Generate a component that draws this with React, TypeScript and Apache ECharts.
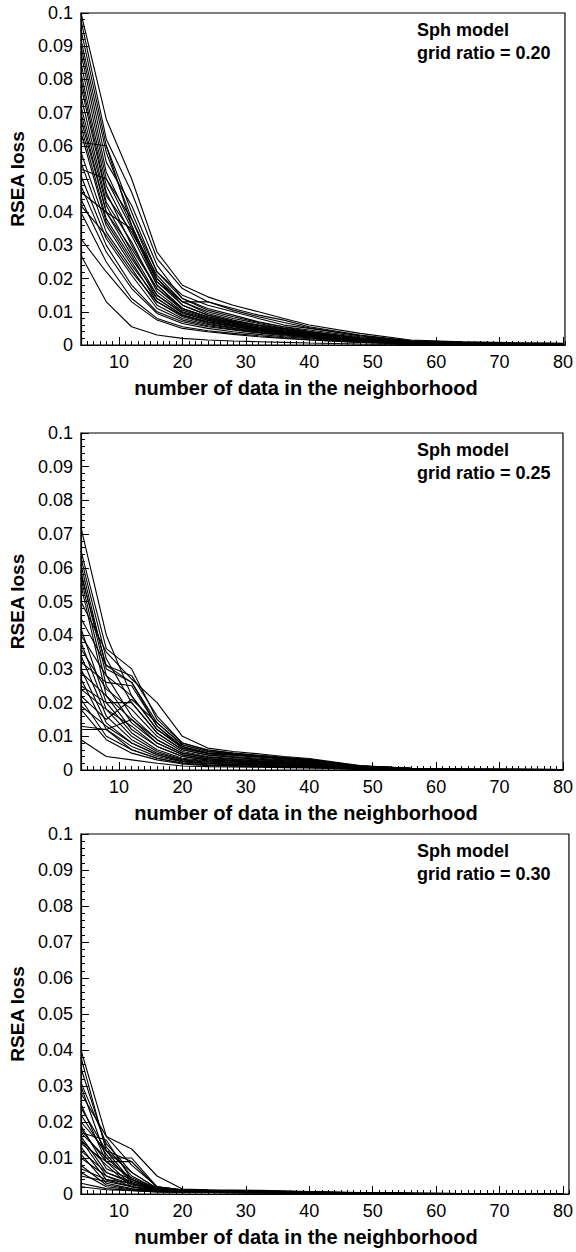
import React, { useEffect, useRef } from "react";
import * as echarts from "echarts";

// x positions (number of data in the neighborhood) where each curve is sampled
const X_VALUES = [4, 8, 12, 16, 20, 24, 28, 32, 36, 40, 48, 56, 64, 72, 80];
const X_TICK_LABELS = [10, 20, 30, 40, 50, 60, 70, 80];
const Y_MIN = 0;
const Y_MAX = 0.1;
const Y_STEP = 0.01;

const MODEL_LABEL = "Sph model";
const GRID_RATIOS = ["0.20", "0.25", "0.30"];
const X_TITLE = "number of data in the neighborhood";
const Y_TITLE = "RSEA loss";

// grid ratio = 0.20
const LOSS_RATIO_020 = [
  [0.100, 0.068, 0.050, 0.028, 0.018, 0.0145, 0.012, 0.010, 0.008, 0.006, 0.0035, 0.0015, 0.001, 0.0007, 0.0005],
  [0.098, 0.062, 0.046, 0.026, 0.017, 0.013, 0.011, 0.009, 0.0075, 0.0055, 0.003, 0.0013, 0.0009, 0.0006, 0.0004],
  [0.095, 0.060, 0.040, 0.022, 0.015, 0.012, 0.010, 0.008, 0.006, 0.005, 0.0028, 0.0012, 0.0008, 0.0006, 0.0004],
  [0.092, 0.058, 0.038, 0.020, 0.013, 0.010, 0.008, 0.0065, 0.005, 0.004, 0.0022, 0.001, 0.0007, 0.0005, 0.0003],
  [0.090, 0.055, 0.042, 0.024, 0.014, 0.011, 0.009, 0.007, 0.0055, 0.0045, 0.0025, 0.0011, 0.0008, 0.0005, 0.0003],
  [0.088, 0.052, 0.036, 0.019, 0.012, 0.009, 0.007, 0.006, 0.005, 0.0038, 0.002, 0.0009, 0.0006, 0.0004, 0.0003],
  [0.085, 0.050, 0.035, 0.021, 0.013, 0.0095, 0.0075, 0.006, 0.0048, 0.0036, 0.002, 0.0009, 0.0006, 0.0004, 0.0003],
  [0.082, 0.048, 0.033, 0.018, 0.011, 0.0085, 0.0068, 0.0055, 0.0045, 0.0034, 0.0018, 0.0008, 0.0005, 0.0004, 0.0002],
  [0.080, 0.046, 0.030, 0.017, 0.0105, 0.008, 0.0065, 0.005, 0.004, 0.003, 0.0017, 0.0008, 0.0005, 0.0003, 0.0002],
  [0.078, 0.045, 0.034, 0.020, 0.012, 0.009, 0.0072, 0.0058, 0.0046, 0.0035, 0.0019, 0.0009, 0.0006, 0.0004, 0.0002],
  [0.075, 0.043, 0.031, 0.016, 0.010, 0.0078, 0.0062, 0.005, 0.004, 0.003, 0.0016, 0.0007, 0.0005, 0.0003, 0.0002],
  [0.072, 0.042, 0.028, 0.015, 0.0095, 0.0075, 0.006, 0.0048, 0.0038, 0.0028, 0.0015, 0.0007, 0.0004, 0.0003, 0.0002],
  [0.070, 0.040, 0.029, 0.017, 0.011, 0.0082, 0.0066, 0.0052, 0.0042, 0.0032, 0.0017, 0.0008, 0.0005, 0.0003, 0.0002],
  [0.068, 0.040, 0.027, 0.014, 0.009, 0.007, 0.0056, 0.0045, 0.0036, 0.0027, 0.0014, 0.0006, 0.0004, 0.0003, 0.0002],
  [0.066, 0.038, 0.026, 0.015, 0.0098, 0.0074, 0.006, 0.0048, 0.0038, 0.0029, 0.0015, 0.0007, 0.0004, 0.0003, 0.0002],
  [0.064, 0.037, 0.025, 0.013, 0.0088, 0.0068, 0.0055, 0.0044, 0.0035, 0.0026, 0.0013, 0.0006, 0.0004, 0.0002, 0.0001],
  [0.061, 0.060, 0.036, 0.019, 0.013, 0.013, 0.0105, 0.0085, 0.0068, 0.0052, 0.0028, 0.0012, 0.0008, 0.0005, 0.0003],
  [0.058, 0.036, 0.024, 0.014, 0.009, 0.007, 0.0058, 0.0046, 0.0036, 0.0027, 0.0014, 0.0006, 0.0004, 0.0003, 0.0002],
  [0.055, 0.034, 0.023, 0.012, 0.008, 0.0062, 0.005, 0.004, 0.0032, 0.0024, 0.0012, 0.0005, 0.0003, 0.0002, 0.0001],
  [0.053, 0.050, 0.038, 0.022, 0.014, 0.0105, 0.0085, 0.0068, 0.0054, 0.0041, 0.0022, 0.001, 0.0007, 0.0004, 0.0003],
  [0.051, 0.032, 0.021, 0.011, 0.0075, 0.0058, 0.0047, 0.0038, 0.003, 0.0022, 0.0011, 0.0005, 0.0003, 0.0002, 0.0001],
  [0.048, 0.030, 0.018, 0.010, 0.007, 0.0055, 0.0045, 0.0036, 0.0028, 0.0021, 0.001, 0.0005, 0.0003, 0.0002, 0.0001],
  [0.046, 0.040, 0.035, 0.018, 0.011, 0.0085, 0.0068, 0.0054, 0.0043, 0.0033, 0.0017, 0.0008, 0.0005, 0.0003, 0.0002],
  [0.044, 0.028, 0.017, 0.0095, 0.0065, 0.005, 0.004, 0.0032, 0.0025, 0.0019, 0.0009, 0.0004, 0.0003, 0.0002, 0.0001],
  [0.042, 0.033, 0.022, 0.013, 0.0085, 0.0065, 0.0052, 0.0042, 0.0033, 0.0025, 0.0013, 0.0006, 0.0004, 0.0002, 0.0001],
  [0.040, 0.025, 0.014, 0.008, 0.0055, 0.0043, 0.0035, 0.0028, 0.0022, 0.0016, 0.0008, 0.0004, 0.0002, 0.0001, 0.0001],
  [0.032, 0.022, 0.013, 0.0075, 0.005, 0.004, 0.0032, 0.0025, 0.002, 0.0015, 0.0008, 0.0003, 0.0002, 0.0001, 0.0001],
  [0.027, 0.013, 0.0055, 0.003, 0.002, 0.0015, 0.0012, 0.001, 0.0008, 0.0006, 0.0003, 0.0002, 0.0001, 0.0001, 0.0001],
];

// grid ratio = 0.25
const LOSS_RATIO_025 = [
  [0.072, 0.040, 0.022, 0.012, 0.007, 0.005, 0.0045, 0.004, 0.0035, 0.003, 0.0012, 0.0005, 0.0003, 0.0002, 0.0001],
  [0.065, 0.036, 0.030, 0.015, 0.008, 0.006, 0.005, 0.0042, 0.0036, 0.003, 0.0012, 0.0005, 0.0003, 0.0002, 0.0001],
  [0.063, 0.033, 0.020, 0.011, 0.006, 0.0045, 0.0038, 0.0032, 0.0028, 0.0024, 0.001, 0.0004, 0.0002, 0.0001, 0.0001],
  [0.061, 0.030, 0.026, 0.014, 0.0075, 0.0055, 0.0048, 0.004, 0.0035, 0.003, 0.0011, 0.0004, 0.0002, 0.0001, 0.0001],
  [0.059, 0.028, 0.016, 0.009, 0.005, 0.0038, 0.0032, 0.0027, 0.0023, 0.002, 0.0008, 0.0003, 0.0002, 0.0001, 0.0001],
  [0.057, 0.025, 0.014, 0.008, 0.0045, 0.0034, 0.0029, 0.0025, 0.0021, 0.0018, 0.0007, 0.0003, 0.0002, 0.0001, 0.0001],
  [0.055, 0.022, 0.012, 0.007, 0.004, 0.003, 0.0026, 0.0022, 0.0019, 0.0016, 0.0006, 0.0003, 0.0001, 0.0001, 0.0001],
  [0.050, 0.035, 0.027, 0.020, 0.010, 0.0065, 0.0055, 0.0048, 0.004, 0.0034, 0.0013, 0.0005, 0.0003, 0.0002, 0.0001],
  [0.045, 0.031, 0.028, 0.016, 0.008, 0.0058, 0.005, 0.0044, 0.0038, 0.0032, 0.0012, 0.0005, 0.0003, 0.0002, 0.0001],
  [0.042, 0.020, 0.011, 0.006, 0.0035, 0.0027, 0.0023, 0.002, 0.0017, 0.0014, 0.0006, 0.0002, 0.0001, 0.0001, 0.0001],
  [0.040, 0.028, 0.022, 0.012, 0.0065, 0.0048, 0.004, 0.0035, 0.003, 0.0025, 0.001, 0.0004, 0.0002, 0.0001, 0.0001],
  [0.038, 0.018, 0.010, 0.0055, 0.0032, 0.0025, 0.0021, 0.0018, 0.0015, 0.0013, 0.0005, 0.0002, 0.0001, 0.0001, 0.0001],
  [0.036, 0.024, 0.018, 0.010, 0.0055, 0.004, 0.0034, 0.003, 0.0025, 0.0021, 0.0008, 0.0003, 0.0002, 0.0001, 0.0001],
  [0.034, 0.016, 0.009, 0.005, 0.003, 0.0023, 0.002, 0.0017, 0.0014, 0.0012, 0.0005, 0.0002, 0.0001, 0.0001, 0.0001],
  [0.032, 0.026, 0.025, 0.013, 0.007, 0.005, 0.0044, 0.0038, 0.0032, 0.0027, 0.001, 0.0004, 0.0002, 0.0001, 0.0001],
  [0.030, 0.014, 0.008, 0.0045, 0.0027, 0.002, 0.0017, 0.0015, 0.0013, 0.0011, 0.0004, 0.0002, 0.0001, 0.0001, 0.0001],
  [0.029, 0.022, 0.015, 0.009, 0.005, 0.0037, 0.0032, 0.0027, 0.0023, 0.0019, 0.0007, 0.0003, 0.0002, 0.0001, 0.0001],
  [0.027, 0.012, 0.007, 0.004, 0.0024, 0.0018, 0.0016, 0.0014, 0.0012, 0.001, 0.0004, 0.0002, 0.0001, 0.0001, 0.0001],
  [0.025, 0.020, 0.020, 0.011, 0.006, 0.0044, 0.0038, 0.0032, 0.0027, 0.0023, 0.0009, 0.0004, 0.0002, 0.0001, 0.0001],
  [0.024, 0.018, 0.013, 0.007, 0.004, 0.003, 0.0026, 0.0022, 0.0019, 0.0016, 0.0006, 0.0003, 0.0001, 0.0001, 0.0001],
  [0.022, 0.015, 0.021, 0.014, 0.0075, 0.0055, 0.0047, 0.004, 0.0034, 0.0029, 0.0011, 0.0004, 0.0002, 0.0001, 0.0001],
  [0.021, 0.010, 0.006, 0.0035, 0.002, 0.0015, 0.0013, 0.0011, 0.001, 0.0008, 0.0003, 0.0001, 0.0001, 0.0001, 0.0001],
  [0.019, 0.013, 0.008, 0.0045, 0.0026, 0.002, 0.0017, 0.0015, 0.0013, 0.0011, 0.0004, 0.0002, 0.0001, 0.0001, 0.0001],
  [0.018, 0.009, 0.005, 0.003, 0.0018, 0.0013, 0.0011, 0.001, 0.0008, 0.0007, 0.0003, 0.0001, 0.0001, 0.0001, 0.0001],
  [0.013, 0.012, 0.015, 0.008, 0.0045, 0.0033, 0.0028, 0.0024, 0.002, 0.0017, 0.0006, 0.0003, 0.0001, 0.0001, 0.0001],
  [0.012, 0.012, 0.006, 0.0035, 0.002, 0.0015, 0.0013, 0.0011, 0.001, 0.0008, 0.0003, 0.0001, 0.0001, 0.0001, 0.0001],
  [0.009, 0.004, 0.003, 0.002, 0.0012, 0.001, 0.0009, 0.0008, 0.0007, 0.0006, 0.0002, 0.0001, 0.0001, 0.0001, 0.0001],
  [0.058, 0.031, 0.026, 0.013, 0.0065, 0.005, 0.0045, 0.004, 0.0035, 0.003, 0.0012, 0.0005, 0.0003, 0.0002, 0.0001],
];

// grid ratio = 0.30
const LOSS_RATIO_030 = [
  [0.040, 0.016, 0.0125, 0.005, 0.0014, 0.0012, 0.0011, 0.001, 0.0009, 0.0007, 0.0004, 0.0002, 0.0001, 0.0001, 0.0001],
  [0.038, 0.012, 0.009, 0.002, 0.0012, 0.001, 0.0009, 0.0008, 0.0007, 0.0005, 0.0003, 0.0002, 0.0001, 0.0001, 0.0001],
  [0.035, 0.013, 0.005, 0.0013, 0.0009, 0.0008, 0.0007, 0.0006, 0.0005, 0.0004, 0.0002, 0.0001, 0.0001, 0.0001, 0.0001],
  [0.031, 0.014, 0.006, 0.0015, 0.001, 0.0009, 0.0008, 0.0007, 0.0006, 0.0005, 0.0003, 0.0001, 0.0001, 0.0001, 0.0001],
  [0.030, 0.010, 0.004, 0.0012, 0.0009, 0.0008, 0.0007, 0.0006, 0.0005, 0.0004, 0.0002, 0.0001, 0.0001, 0.0001, 0.0001],
  [0.028, 0.016, 0.008, 0.002, 0.0011, 0.001, 0.0009, 0.0008, 0.0007, 0.0005, 0.0003, 0.0002, 0.0001, 0.0001, 0.0001],
  [0.025, 0.009, 0.009, 0.0018, 0.001, 0.0009, 0.0008, 0.0007, 0.0006, 0.0005, 0.0003, 0.0001, 0.0001, 0.0001, 0.0001],
  [0.024, 0.012, 0.006, 0.0016, 0.0011, 0.001, 0.0009, 0.0008, 0.0007, 0.0006, 0.0003, 0.0002, 0.0001, 0.0001, 0.0001],
  [0.022, 0.011, 0.003, 0.001, 0.0008, 0.0007, 0.0007, 0.0006, 0.0005, 0.0004, 0.0002, 0.0001, 0.0001, 0.0001, 0.0001],
  [0.020, 0.012, 0.0035, 0.0012, 0.0009, 0.0008, 0.0007, 0.0006, 0.0005, 0.0004, 0.0002, 0.0001, 0.0001, 0.0001, 0.0001],
  [0.019, 0.007, 0.004, 0.001, 0.0008, 0.0007, 0.0006, 0.0005, 0.0005, 0.0004, 0.0002, 0.0001, 0.0001, 0.0001, 0.0001],
  [0.018, 0.009, 0.0025, 0.0011, 0.0009, 0.0008, 0.0007, 0.0006, 0.0005, 0.0004, 0.0002, 0.0001, 0.0001, 0.0001, 0.0001],
  [0.017, 0.010, 0.010, 0.002, 0.0012, 0.001, 0.0009, 0.0008, 0.0007, 0.0006, 0.0003, 0.0002, 0.0001, 0.0001, 0.0001],
  [0.017, 0.015, 0.004, 0.0015, 0.001, 0.0009, 0.0008, 0.0007, 0.0006, 0.0005, 0.0003, 0.0002, 0.0001, 0.0001, 0.0001],
  [0.016, 0.006, 0.003, 0.001, 0.0008, 0.0007, 0.0006, 0.0005, 0.0004, 0.0003, 0.0002, 0.0001, 0.0001, 0.0001, 0.0001],
  [0.015, 0.008, 0.002, 0.0009, 0.0007, 0.0006, 0.0005, 0.0005, 0.0004, 0.0003, 0.0002, 0.0001, 0.0001, 0.0001, 0.0001],
  [0.015, 0.005, 0.0028, 0.0012, 0.0009, 0.0008, 0.0007, 0.0006, 0.0005, 0.0004, 0.0002, 0.0001, 0.0001, 0.0001, 0.0001],
  [0.014, 0.009, 0.0045, 0.0015, 0.001, 0.0009, 0.0008, 0.0007, 0.0006, 0.0005, 0.0003, 0.0001, 0.0001, 0.0001, 0.0001],
  [0.013, 0.004, 0.002, 0.0008, 0.0006, 0.0005, 0.0005, 0.0004, 0.0004, 0.0003, 0.0002, 0.0001, 0.0001, 0.0001, 0.0001],
  [0.012, 0.006, 0.0035, 0.0013, 0.0009, 0.0008, 0.0007, 0.0006, 0.0005, 0.0004, 0.0002, 0.0001, 0.0001, 0.0001, 0.0001],
  [0.011, 0.003, 0.0015, 0.0008, 0.0006, 0.0005, 0.0005, 0.0004, 0.0004, 0.0003, 0.0002, 0.0001, 0.0001, 0.0001, 0.0001],
  [0.010, 0.005, 0.002, 0.001, 0.0007, 0.0006, 0.0006, 0.0005, 0.0004, 0.0003, 0.0002, 0.0001, 0.0001, 0.0001, 0.0001],
  [0.008, 0.0025, 0.0013, 0.0007, 0.0005, 0.0005, 0.0004, 0.0004, 0.0003, 0.0003, 0.0002, 0.0001, 0.0001, 0.0001, 0.0001],
  [0.007, 0.004, 0.003, 0.0012, 0.0008, 0.0007, 0.0006, 0.0005, 0.0005, 0.0004, 0.0002, 0.0001, 0.0001, 0.0001, 0.0001],
  [0.006, 0.002, 0.0012, 0.0007, 0.0005, 0.0004, 0.0004, 0.0003, 0.0003, 0.0002, 0.0001, 0.0001, 0.0001, 0.0001, 0.0001],
  [0.005, 0.0035, 0.002, 0.001, 0.0007, 0.0006, 0.0005, 0.0005, 0.0004, 0.0003, 0.0002, 0.0001, 0.0001, 0.0001, 0.0001],
  [0.003, 0.0015, 0.001, 0.0006, 0.0005, 0.0004, 0.0004, 0.0003, 0.0003, 0.0002, 0.0001, 0.0001, 0.0001, 0.0001, 0.0001],
  [0.002, 0.0012, 0.0009, 0.0006, 0.0004, 0.0004, 0.0003, 0.0003, 0.0002, 0.0002, 0.0001, 0.0001, 0.0001, 0.0001, 0.0001],
];

const PANELS = [LOSS_RATIO_020, LOSS_RATIO_025, LOSS_RATIO_030];

// layout (pixels); 488 px spans x = 4..80
const LAYOUT = [
  { top: 13, height: 332, left: 78, width: 490 },
  { top: 433, height: 337, left: 78, width: 488 },
  { top: 834, height: 360, left: 78, width: 494 },
];
const FONT = "'Liberation Sans', Arial, Helvetica, sans-serif";

function buildOption() {
  const grid: any[] = [];
  const xAxis: any[] = [];
  const yAxis: any[] = [];
  const series: any[] = [];
  const graphic: any[] = [];

  PANELS.forEach((lines, p) => {
    const { top, height, left, width } = LAYOUT[p];
    // x range of the panel: 80 sits at (or a little inside) the right frame
    const xMax = 80 + Math.max(0, width - 488) / (488 / 76);
    grid.push({
      left,
      top,
      width,
      height,
      show: true,
      borderColor: "#000",
      borderWidth: 1.2,
      backgroundColor: "transparent",
    });
    // minor-tick x axis (every unit)
    xAxis.push({
      type: "value",
      gridIndex: p,
      position: "bottom",
      min: 4,
      max: xMax,
      interval: 1,
      axisLine: { show: true, onZero: false, lineStyle: { color: "#000", width: 1.2 } },
      axisTick: { show: true, inside: true, length: 4, lineStyle: { color: "#000", width: 1 } },
      axisLabel: { show: false },
      splitLine: { show: false },
    });
    // major x axis with labels
    xAxis.push({
      type: "value",
      gridIndex: p,
      position: "bottom",
      min: 4,
      max: xMax,
      axisLine: { show: false, onZero: false },
      axisTick: {
        show: true,
        inside: true,
        length: 8,
        customValues: X_TICK_LABELS,
        lineStyle: { color: "#000", width: 1 },
      },
      axisLabel: {
        show: true,
        customValues: X_TICK_LABELS,
        color: "#000",
        fontSize: 18,
        fontFamily: FONT,
        margin: 8,
      },
      splitLine: { show: false },
    });
    yAxis.push({
      type: "value",
      gridIndex: p,
      min: Y_MIN,
      max: Y_MAX,
      interval: Y_STEP,
      axisLine: { show: true, onZero: false, lineStyle: { color: "#000", width: 1.2 } },
      axisTick: { show: true, inside: true, length: 8, lineStyle: { color: "#000", width: 1 } },
      minorTick: { show: true, splitNumber: 5, length: 4, lineStyle: { color: "#000", width: 1 } },
      axisLabel: {
        color: "#000",
        fontSize: 18,
        fontFamily: FONT,
        margin: 8,
        formatter: (v: number) => String(parseFloat(v.toFixed(2))),
      },
      splitLine: { show: false },
      name: Y_TITLE,
      nameLocation: "middle",
      nameRotate: 90,
      nameGap: 51,
      nameTextStyle: { color: "#000", fontSize: 19, fontWeight: "bold", fontFamily: FONT },
    });

    lines.forEach((vals, i) => {
      series.push({
        type: "line",
        name: `ratio ${GRID_RATIOS[p]} #${i + 1}`,
        xAxisIndex: 2 * p + 1,
        yAxisIndex: p,
        data: X_VALUES.map((x, k) => [x, vals[k]]),
        symbol: "none",
        silent: true,
        lineStyle: { color: "#000", width: 1.1 },
        z: 1,
      });
    });

    graphic.push({
      type: "text",
      x: 417,
      y: top + 17,
      style: {
        text: MODEL_LABEL,
        fill: "#000",
        font: `bold 18px ${FONT}`,
        textVerticalAlign: "middle",
      },
    });
    graphic.push({
      type: "text",
      x: 417,
      y: top + 40,
      style: {
        text: `grid ratio = ${GRID_RATIOS[p]}`,
        fill: "#000",
        font: `bold 18px ${FONT}`,
        textVerticalAlign: "middle",
      },
    });
    graphic.push({
      type: "text",
      x: 306,
      y: top + height + 43,
      style: {
        text: X_TITLE,
        fill: "#000",
        font: `bold 20px ${FONT}`,
        textAlign: "center",
        textVerticalAlign: "middle",
      },
    });
  });

  return {
    animation: false,
    backgroundColor: "#fff",
    grid,
    xAxis,
    yAxis,
    series,
    graphic,
  };
}

export default function App() {
  const ref = useRef<HTMLDivElement>(null);
  useEffect(() => {
    if (!ref.current) return;
    const chart = echarts.init(ref.current, undefined, { renderer: "svg" });
    chart.setOption(buildOption() as any);
    return () => chart.dispose();
  }, []);
  return (
    <div
      ref={ref}
      style={{ position: "absolute", left: 0, top: 0, width: 576, height: 1252, background: "#fff" }}
    />
  );
}
